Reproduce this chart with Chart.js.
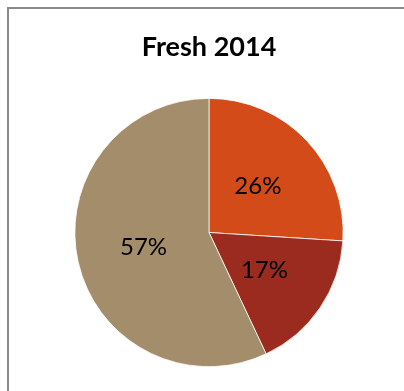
<!DOCTYPE html>
<html>
<head>
<meta charset="utf-8">
<title>Fresh 2014</title>
<script src="https://cdn.jsdelivr.net/npm/chart.js@4/dist/chart.umd.min.js"></script>
<style>
    html, body { margin: 0; padding: 0; background: #ffffff; overflow: hidden; }
    #wrap { position: relative; width: 404px; height: 391px; }
    /* chart frame, only the top and left edges fall inside the page */
    #frame {
        position: absolute; left: 7px; top: 7px; width: 440px; height: 440px;
        border: 2px solid #8a8a8a; box-sizing: border-box;
    }
    #freshPie { position: absolute; left: 0; top: 0; }
</style>
</head>
<body>
<div id="wrap">
    <div id="frame"></div>
    <canvas id="freshPie" width="404" height="391"></canvas>
</div>
<script>
// Pasta grafiği verileri
const chartTitle = 'Fresh 2014';
const categories = ['Kategori 1', 'Kategori 2', 'Kategori 3'];
const shares = [26, 17, 57];
const sliceColors = ['#d24b19', '#9b2b1e', '#a38d6b'];

// Başlığı tuvalin üstüne yazan eklenti
const titlePlugin = {
    id: 'freshTitle',
    afterDraw(chart) {
        const ctx = chart.ctx;
        ctx.save();
        ctx.font = 'bold 27px Lato, "Liberation Sans", sans-serif';
        ctx.fillStyle = '#000000';
        ctx.textAlign = 'center';
        ctx.textBaseline = 'middle';
        ctx.fillText(chartTitle, 209, 47);
        ctx.restore();
    }
};

// Her dilimin ortasına yüzde etiketini yazan eklenti
const sliceLabelPlugin = {
    id: 'sliceLabels',
    afterDatasetsDraw(chart) {
        const ctx = chart.ctx;
        const meta = chart.getDatasetMeta(0);
        ctx.save();
        ctx.font = '24px Lato, "Liberation Sans", sans-serif';
        ctx.fillStyle = '#000000';
        ctx.textAlign = 'center';
        ctx.textBaseline = 'middle';
        meta.data.forEach(function(arc, i) {
            const p = arc.getProps(['x', 'y', 'startAngle', 'endAngle', 'outerRadius'], true);
            const mid = (p.startAngle + p.endAngle) / 2;
            const r = p.outerRadius * 0.5;
            ctx.fillText(shares[i] + '%', p.x + Math.cos(mid) * r, p.y + Math.sin(mid) * r);
        });
        ctx.restore();
    }
};

new Chart(document.getElementById('freshPie'), {
    type: 'pie',
    data: {
        labels: categories,
        datasets: [{
            data: shares,
            backgroundColor: sliceColors,
            borderColor: '#ffffff',
            borderWidth: 0.75
        }]
    },
    options: {
        responsive: false,
        animation: false,
        rotation: 0,
        layout: {
            padding: { top: 98, bottom: 24, left: 74.5, right: 60.5 }
        },
        plugins: {
            legend: { display: false },
            tooltip: { enabled: false }
        }
    },
    plugins: [titlePlugin, sliceLabelPlugin]
});
</script>
</body>
</html>
